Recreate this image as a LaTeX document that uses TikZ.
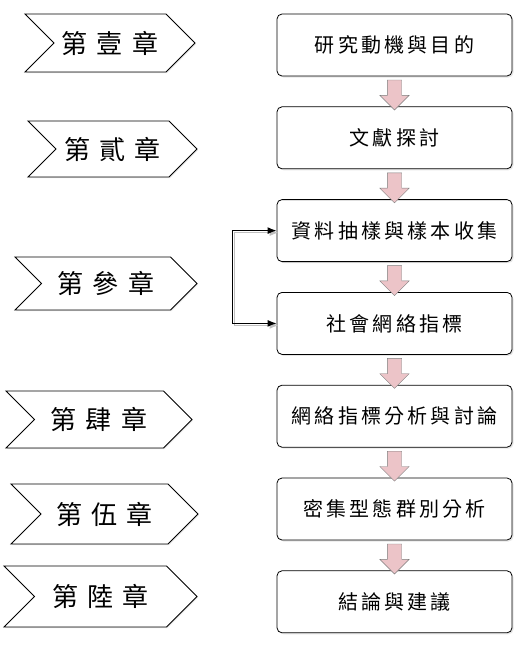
\documentclass[tikz,border=0pt]{standalone}
\usepackage{fontspec}
\newfontfamily\cjk[LetterSpace=16]{Noto Sans CJK TC}
\newfontfamily\cjkwide[LetterSpace=36]{Noto Sans CJK TC}
\usetikzlibrary{positioning,arrows.meta,calc,shapes.symbols,shapes.arrows,shadows}
\definecolor{arrowpink}{RGB}{236,196,200}
\definecolor{arrowedge}{RGB}{125,125,125}
\tikzset{
  >={Latex[length=9pt,width=7pt]},
}

\begin{document}
\begin{tikzpicture}[
  x=1pt,y=-1pt,
  node distance=30pt,
  box/.style={draw,rounded corners=5pt,line width=0.8pt,fill=white,
    minimum width=235pt,minimum height=62pt,font=\fontsize{20}{24}\cjk,
    drop shadow={opacity=.2,shadow xshift=1.5pt,shadow yshift=-1.5pt}},
  chap/.style={signal,signal from=west,signal to=east,draw,line width=0.9pt,
    fill=white,inner sep=0pt,font=\fontsize{26}{30}\cjkwide,
    drop shadow={opacity=.2,shadow xshift=1pt,shadow yshift=-1pt}},
  down/.style={single arrow,rotate=-90,draw=arrowedge,fill=arrowpink,
    minimum height=30pt,inner xsep=0pt,inner ysep=7pt,
    single arrow head extend=7.5pt},
  link/.style={<->,line width=1.3pt},
  linkshade/.style={link,draw=gray!50},
]
\useasboundingbox (0,0) rectangle (519,664);

% chapter tags
\node[chap,minimum width=170pt,minimum height=58pt] (c1) at (110,43) {第壹章};
\node[chap,minimum width=169pt,minimum height=56pt] (c2) at (112.5,149) {第貳章};
\node[chap,minimum width=182pt,minimum height=53pt] (c3) at (106,283.5) {第參章};
\node[chap,minimum width=186pt,minimum height=57pt] (c4) at (99,419.5) {第肆章};
\node[chap,minimum width=187pt,minimum height=60pt] (c5) at (104.5,514) {第伍章};
\node[chap,minimum width=193pt,minimum height=61pt] (c6) at (100.5,596.5) {第陸章};

% steps
\node[box] (b1) at (394.5,45) {研究動機與目的};
\node[box,below=of b1] (b2) {文獻探討};
\node[box,below=of b2] (b3) {資料抽樣與樣本收集};
\node[box,below=of b3] (b4) {社會網絡指標};
\node[box,below=of b4] (b5) {網絡指標分析與討論};
\node[box,below=of b5] (b6) {密集型態群別分析};
\node[box,below=of b6] (b7) {結論與建議};

\foreach \a/\b in {b1/b2,b2/b3,b3/b4,b4/b5,b5/b6,b6/b7}
  \node[down] (\a\b) at ($(\a.south)!.5!(\b.north)$) {};

% bracket between the two data steps
\coordinate[left=44pt of b3.west] (jt);
\coordinate[left=44pt of b4.west] (jb);
\begin{scope}[transform canvas={xshift=2pt,yshift=-2pt}]
  \draw[linkshade] (b3.west) -- (jt) -- (jb) -- (b4.west);
\end{scope}
\draw[link] (b3.west) -- (jt) -- (jb) -- (b4.west);
\end{tikzpicture}
\end{document}
